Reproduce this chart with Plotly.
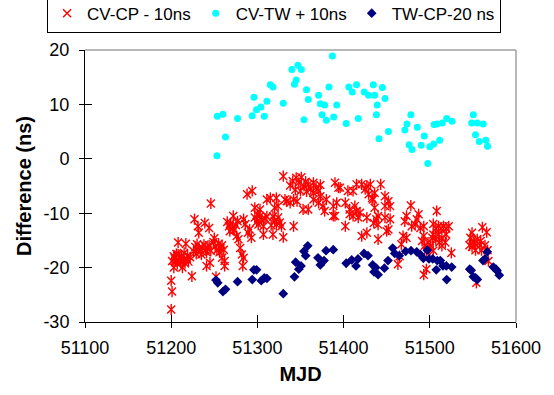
import plotly.graph_objects as go

# ---- data (MJD, ns) ----
cvcp_points = [
    (51200,-27.7),(51201,-24.4),(51200,-22.4),(51203,-17.9),(51201,-18.8),(51204,-18.3),(51206,-17.5),
    (51208,-17.6),(51210,-18.2),(51212,-17.9),(51214,-18.6),(51216,-19.2),(51218,-18.4),(51220,-18.9),
    (51207,-19.3),(51205,-18.8),(51211,-19.1),(51215,-17.3),(51219,-17.8),(51222,-18.1),(51213,-20.0),
    (51203,-20.0),(51208,-15.4),(51217,-15.6),(51224,-21.6),(51226,-17.0),(51228,-16.2),(51230,-15.7),
    (51232,-16.6),(51234,-16.9),(51236,-16.3),(51238,-15.8),(51240,-16.8),(51242,-16.4),(51244,-15.9),
    (51246,-16.9),(51229,-17.5),(51235,-17.6),(51241,-17.2),(51227,-11.1),(51231,-12.4),(51239,-11.8),
    (51244,-12.7),(51232,-13.6),(51246,-8.2),(51241,-19.7),(51245,-19.1),(51252,-21.7),(51249,-15.3),
    (51251,-16.1),(51253,-16.8),(51255,-15.6),(51257,-16.4),(51259,-15.9),(51261,-16.7),(51250,-14.6),
    (51256,-17.2),(51262,-19.7),(51259,-18.2),(51262,-18.8),(51265,-11.6),(51267,-12.4),(51269,-11.9),
    (51271,-12.8),(51273,-13.1),(51275,-12.2),(51277,-11.5),(51268,-13.3),(51272,-10.5),(51284,-11.1),
    (51286,-12.0),(51280,-16.4),(51282,-17.6),(51284,-18.2),(51278,-14.8),(51276,-14.2),(51283,-19.7),
    (51289,-13.6),(51293,-14.5),(51291,-13.0),(51288,-6.5),(51294,-5.9),(51297,-9.0),(51303,-9.3),
    (51297,-10.8),(51299,-11.6),(51301,-12.1),(51303,-10.5),(51305,-11.2),(51307,-12.4),(51309,-11.0),
    (51311,-10.6),(51300,-10.2),(51307,-13.9),(51318,-13.9),(51311,-7.5),(51315,-7.2),(51322,-7.2),
    (51324,-8.7),(51320,-9.0),(51318,-10.6),(51320,-11.4),(51322,-12.1),(51324,-10.8),(51326,-11.7),
    (51328,-12.4),(51316,-12.2),(51330,-14.4),(51342,-12.4),(51330,-3.2),(51332,-7.5),(51334,-7.8),
    (51338,-8.1),(51342,-7.5),(51346,-7.8),(51338,-4.9),(51341,-4.1),(51345,-3.5),(51348,-4.4),
    (51351,-3.4),(51354,-5.0),(51356,-4.2),(51359,-4.7),(51362,-5.5),(51365,-4.4),(51368,-5.3),
    (51371,-5.9),(51373,-4.8),(51344,-5.7),(51350,-5.9),(51357,-6.0),(51353,-9.3),(51359,-9.3),
    (51365,-7.5),(51371,-8.1),(51376,-8.7),(51378,-9.6),(51365,-6.3),(51373,-6.9),(51380,-7.5),
    (51388,-10.5),(51390,-4.4),(51394,-5.3),(51388,-8.7),(51396,-5.3),(51392,-8.1),(51390,-10.5),
    (51405,-5.9),(51411,-5.9),(51415,-4.7),(51421,-4.7),(51427,-5.0),(51431,-4.7),(51443,-4.7),
    (51425,-5.6),(51429,-6.5),(51433,-7.2),(51436,-6.3),(51434,-7.5),(51448,-6.9),(51448,-8.7),
    (51454,-8.7),(51452,-7.8),(51402,-8.1),(51407,-9.3),(51413,-8.7),(51415,-9.6),(51419,-9.9),
    (51417,-10.8),(51411,-10.5),(51407,-10.2),(51427,-10.8),(51436,-9.0),(51440,-10.5),(51438,-11.1),
    (51435,-11.8),(51440,-12.1),(51448,-10.8),(51454,-11.1),(51402,-12.4),(51421,-14.2),(51427,-13.6),
    (51440,-14.8),(51450,-13.3),(51452,-13.0),(51478,-8.6),(51508,-9.6),(51473,-10.5),(51471,-11.5),
    (51487,-10.2),(51485,-11.1),(51483,-12.1),(51489,-12.7),(51479,-12.4),(51493,-12.4),(51469,-14.2),
    (51473,-14.5),(51467,-15.7),(51465,-17.9),(51463,-19.4),(51493,-14.2),(51491,-15.1),(51494,-16.0),
    (51498,-15.4),(51500,-16.4),(51496,-17.0),(51504,-12.0),(51507,-12.8),(51510,-12.4),(51513,-12.8),
    (51516,-12.4),(51519,-12.8),(51522,-12.4),(51504,-13.9),(51510,-13.9),(51514,-14.5),(51519,-13.9),
    (51511,-15.4),(51514,-16.0),(51518,-15.4),(51501,-16.0),(51504,-16.9),(51507,-14.8),(51503,-14.5),
    (51525,-17.3),(51496,-20.3),(51493,-21.3),(51549,-13.6),(51547,-14.5),(51551,-15.3),(51546,-15.9),
    (51549,-16.2),(51552,-15.6),(51555,-14.8),(51559,-15.1),(51561,-12.6),(51566,-13.5),(51564,-15.9),
    (51560,-16.8),(51567,-16.8),(51553,-16.8),(51558,-15.9),(51554,-22.8),(51568,-18.8),
]

cvtw_points = [
    (51253,0.55),(51253.5,7.8),(51260,8.2),(51263,4.0),(51277,7.4),(51294,7.9),(51296,11.3),(51299,9.0),
    (51304,9.5),(51308,7.8),(51311,10.6),(51315,13.6),(51318,13.2),(51330,10.2),(51340,16.4),(51347,17.2),
    (51351,16.4),(51345,14.5),(51343,13.7),(51354,7.2),(51357,12.7),(51359,10.9),(51371,11.7),(51373,10.1),
    (51378,9.9),(51375,8.1),(51380,7.1),(51383,13.2),(51387,18.9),(51388.5,7.7),(51392,9.9),(51403,6.5),
    (51406,13.2),(51410,12.3),(51415,13.6),(51417,7.4),(51424,12.3),(51429,11.7),(51434.5,13.6),(51436,11.7),
    (51439,9.9),(51438,8.1),(51441,3.7),(51445,13.1),(51448,11.1),(51452,5.0),(51478,8.1),(51473.5,6.4),
    (51471,5.3),(51485.5,5.8),(51493.6,4.2),(51476,2.6),(51479.4,1.7),(51490,2.5),(51500,2.2),(51504.5,2.7),
    (51511.5,3.4),(51497.6,-0.85),(51505,6.3),(51508.4,6.4),(51514.5,6.6),(51519.6,7.4),(51525.8,6.9),
    (51550.5,8.1),(51548.6,6.6),(51555,6.6),(51562,6.4),(51553,4.4),(51557.4,3.2),(51565,3.4),(51567,2.3),
]

twcp_points = [
    (51252,-22.3),(51254,-22.8),(51260,-24.4),(51263,-24.0),(51277,-22.6),(51294,-22.2),(51296,-20.4),
    (51299,-20.4),(51304.5,-22.4),(51308,-21.9),(51311,-22.0),(51330,-24.8),(51343,-21.7),(51344.4,-19.0),
    (51348,-20.3),(51350.6,-19.7),(51354,-17.0),(51356,-17.8),(51358.4,-16.0),(51370.3,-18.2),(51373,-19.5),
    (51377.3,-18.7),(51379.6,-16.9),(51388,-16.7),(51403,-19.2),(51409.4,-18.6),(51416.7,-18.4),(51414.4,-19.7),
    (51423.7,-17.4),(51428.3,-17.8),(51433.7,-19.5),(51437.2,-20.0),(51435.3,-20.8),(51440,-21.3),(51447.3,-20.1),
    (51451.5,-18.7),(51457,-16.4),(51459.3,-17.4),(51464.6,-17.8),(51472,-17.0),(51478.2,-16.9),(51484.8,-17.1),
    (51489,-17.6),(51492.5,-18.3),(51497.1,-16.8),(51499.1,-18.4),(51503.4,-18.4),(51508.7,-18.7),(51512.2,-18.7),
    (51507.5,-20.4),(51515.3,-19.7),(51519.2,-19.7),(51525.4,-19.9),(51519.6,-22.2),(51546.3,-20.3),(51548,-20.5),
    (51550.5,-21.7),(51553.2,-21.9),(51555.1,-22.2),(51561.7,-18.7),(51564,-18.4),(51566.7,-17.1),(51573.7,-19.9),
    (51576.8,-20.3),(51578,-20.6),(51580.6,-21.4),
]

series_names = ["CV-CP - 10ns", "CV-TW + 10ns", "TW-CP-20 ns"]
x_ticks = [51100, 51200, 51300, 51400, 51500, 51600]
y_ticks = [-30, -20, -10, 0, 10, 20]

def split(pts):
    return [p[0] for p in pts], [p[1] for p in pts]

rx, ry = split(cvcp_points)
cx, cy = split(cvtw_points)
bx, by = split(twcp_points)

FONT = "Liberation Sans, Arial, sans-serif"

fig = go.Figure()
fig.add_trace(go.Scatter(x=rx, y=ry, mode="markers", name=series_names[0], legendgroup="a",
                         marker=dict(symbol="x-thin-open", size=8, color="#FF0000",
                                     line=dict(color="#FF0000", width=1.4))))
fig.add_trace(go.Scatter(x=rx, y=ry, mode="markers", name=series_names[0], legendgroup="a",
                         showlegend=False,
                         marker=dict(symbol="line-ns-open", size=8, color="#FF0000",
                                     line=dict(color="#FF0000", width=1.4))))
fig.add_trace(go.Scatter(x=cx, y=cy, mode="markers", name=series_names[1],
                         marker=dict(symbol="circle", size=7, color="#00FFFF")))
fig.add_trace(go.Scatter(x=bx, y=by, mode="markers", name=series_names[2],
                         marker=dict(symbol="diamond", size=7.5, color="#000080")))
# invisible trace to carry the inner tick overlay axes
fig.add_trace(go.Scatter(x=[None], y=[None], xaxis="x2", yaxis="y2", showlegend=False,
                         hoverinfo="skip", mode="markers"))

axis_common = dict(showgrid=False, zeroline=False, linecolor="black", linewidth=1,
                   tickcolor="black", tickwidth=1, color="black")

fig.update_layout(
    width=554, height=395,
    margin=dict(l=85, r=38, t=50, b=73, autoexpand=False),
    paper_bgcolor="white", plot_bgcolor="white",
    font=dict(family=FONT, size=18, color="black"),
    xaxis=dict(range=[51100, 51600], tickvals=x_ticks, ticktext=[str(v) for v in x_ticks],
               ticks="outside", ticklen=5, ticklabelstandoff=4,
               showline=True, title=dict(text="<b>MJD</b>", font=dict(size=20), standoff=10),
               **axis_common),
    yaxis=dict(range=[-30, 20], tickvals=y_ticks, ticktext=[str(v) for v in y_ticks],
               ticks="outside", ticklen=5, ticklabelstandoff=6,
               showline=True, title=dict(text="<b>Difference (ns)</b>", font=dict(size=20), standoff=6),
               **axis_common),
    xaxis2=dict(range=[51100, 51600], tickvals=x_ticks, ticks="inside", ticklen=7,
                showticklabels=False, overlaying="x", anchor="y2", showgrid=False,
                zeroline=False, showline=False, tickcolor="black"),
    yaxis2=dict(range=[-30, 20], tickvals=y_ticks, ticks="inside", ticklen=7,
                showticklabels=False, overlaying="y", anchor="x2", showgrid=False,
                zeroline=False, showline=False, tickcolor="black"),
    legend=dict(orientation="h", x=-0.088, xanchor="left",
                y=1.064, yanchor="bottom",
                bordercolor="black", borderwidth=1, bgcolor="white",
                font=dict(size=17), tracegroupgap=0),
    showlegend=True,
)

# gray frame on top and right of the plot area
fig.add_shape(type="line", xref="paper", yref="paper", x0=0, x1=1, y0=1, y1=1,
              line=dict(color="#A0A0A0", width=1.5))
fig.add_shape(type="line", xref="paper", yref="paper", x0=1, x1=1, y0=0, y1=1,
              line=dict(color="#A0A0A0", width=1.5))

fig.write_html("out.html")
